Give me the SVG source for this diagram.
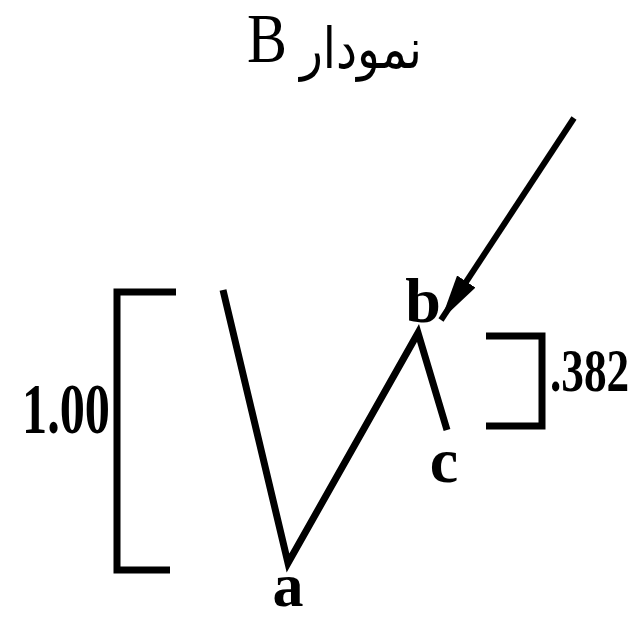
<svg xmlns="http://www.w3.org/2000/svg" width="642" height="618" viewBox="0 0 642 618">
<style>
.ln{fill:none;stroke:#000;stroke-width:7;stroke-linecap:butt;stroke-linejoin:miter}
.lbl{font-family:"Liberation Serif","Times New Roman",serif;font-weight:bold;fill:#000}
</style>
<defs>
<marker id="ah" markerUnits="userSpaceOnUse" markerWidth="50" markerHeight="24" refX="46" refY="11" orient="auto">
<path d="M0,0 L46,11 L0,22 Z" fill="#000"/>
</marker>
</defs>
<rect width="642" height="618" fill="#fff"/>
<g id="title">
<text x="287" y="62" font-family="'Liberation Serif','Times New Roman',serif" font-size="70" text-anchor="end" textLength="40" lengthAdjust="spacingAndGlyphs">B</text>
<text x="422" y="68" font-family="'DejaVu Sans','Noto Sans',sans-serif" font-size="56" text-anchor="end" textLength="122" lengthAdjust="spacingAndGlyphs">نمودار</text>
</g>
<g id="connectors">
<path id="wave" class="ln" d="M223,290 L288,563 L418,333 L447,430"/>
<path id="arrow" d="M574,118 L441,320" fill="none" stroke="#000" stroke-width="6" marker-end="url(#ah)"/>
</g>
<g id="bracket-left">
<path class="ln" d="M176,292 L117,292 L117,570 L170,570"/>
<text class="lbl" x="22" y="433" font-size="72" textLength="88" lengthAdjust="spacingAndGlyphs">1.00</text>
</g>
<g id="bracket-right">
<path class="ln" d="M486,336 L542,336 L542,426 L486,426"/>
<text class="lbl" transform="translate(550,391) scale(0.73,1)" x="0" y="0" font-size="62">.382</text>
</g>
<g id="label-a"><text class="lbl" x="288" y="606" font-size="62" text-anchor="middle">a</text></g>
<g id="label-b"><text class="lbl" x="423" y="322" font-size="64" text-anchor="middle">b</text></g>
<g id="label-c"><text class="lbl" x="444" y="482" font-size="64" text-anchor="middle">c</text></g>
</svg>
